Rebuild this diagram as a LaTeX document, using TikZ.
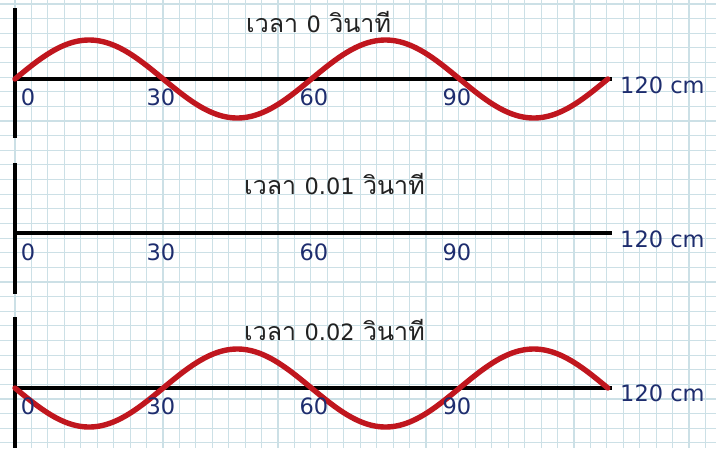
\documentclass[tikz,border=0pt]{standalone}
\usepackage{fontspec}
\setmainfont{DejaVu Sans}
\newfontfamily\thaifont[Script=Thai]{Loma}
\newfontfamily\digfont{DejaVu Sans}
\definecolor{gridc}{RGB}{204,224,230}
\definecolor{wavec}{RGB}{192,22,30}
\definecolor{navyc}{RGB}{30,45,110}
\definecolor{titlec}{RGB}{34,34,34}
\begin{document}
\begin{tikzpicture}[x=1pt,y=-1pt,
  gridline/.style={draw=gridc,line width=1.1pt},
  axisline/.style={draw=black,line width=3.6pt},
  wave/.style={draw=wavec,line width=5.4pt,line cap=round},
  numlab/.style={text=navyc,font=\fontsize{22.5}{22.5}\selectfont,inner sep=0pt},
  titlelab/.style={text=titlec,font=\thaifont\fontsize{25}{25}\selectfont,inner sep=0pt,anchor=west},
  dig/.style={},
]
\useasboundingbox (0,0) rectangle (716,448);
\fill[white] (0,0) rectangle (716,448);
% grid
\foreach \k in {0,...,42} \draw[gridline] ({15+16.44*\k},0) -- ({15+16.44*\k},448);
\foreach \k in {0,...,30} \draw[gridline] (0,{4+14.63*\k}) -- (716,{4+14.63*\k});
% ---------- panel 1 ----------
\coordinate (v1t) at (15,8); \coordinate (v1b) at (15,138);
\coordinate (a1s) at (15,79); \coordinate (a1e) at (612,79);
\draw[axisline] (v1t) -- (v1b);
\draw[axisline] (a1s) -- (a1e);
\draw[wave] plot[domain=0:120,samples=121,smooth] ({15+4.94*\x},{79-39*sin(6*\x)});
\node[titlelab] (t1) at (246,22) {เวลา {\digfont\fontsize{22.5}{22.5}\selectfont 0} วินาที};
\node[numlab] (l10) at (28,97) {0};
\node[numlab] (l130) at (161,97) {30};
\node[numlab] (l160) at (314,97) {60};
\node[numlab] (l190) at (457,97) {90};
\node[numlab,anchor=west] (e1) at (620,85) {120 cm};
% ---------- panel 2 ----------
\coordinate (v2t) at (15,163); \coordinate (v2b) at (15,294);
\coordinate (a2s) at (15,233); \coordinate (a2e) at (612,233);
\draw[axisline] (v2t) -- (v2b);
\draw[axisline] (a2s) -- (a2e);
\node[titlelab] (t2) at (244,184) {เวลา {\digfont\fontsize{22.5}{22.5}\selectfont 0.01} วินาที};
\node[numlab] (l20) at (28,252) {0};
\node[numlab] (l230) at (161,252) {30};
\node[numlab] (l260) at (314,252) {60};
\node[numlab] (l290) at (457,252) {90};
\node[numlab,anchor=west] (e2) at (620,239) {120 cm};
% ---------- panel 3 ----------
\coordinate (v3t) at (15,317); \coordinate (v3b) at (15,448);
\coordinate (a3s) at (15,388); \coordinate (a3e) at (612,388);
\draw[axisline] (v3t) -- (v3b);
\draw[axisline] (a3s) -- (a3e);
\draw[wave] plot[domain=0:120,samples=121,smooth] ({15+4.94*\x},{388+39*sin(6*\x)});
\node[titlelab] (t3) at (244,330) {เวลา {\digfont\fontsize{22.5}{22.5}\selectfont 0.02} วินาที};
\node[numlab] (l30) at (28,406) {0};
\node[numlab] (l330) at (161,406) {30};
\node[numlab] (l360) at (314,406) {60};
\node[numlab] (l390) at (457,406) {90};
\node[numlab,anchor=west] (e3) at (620,393) {120 cm};
\end{tikzpicture}
\end{document}
